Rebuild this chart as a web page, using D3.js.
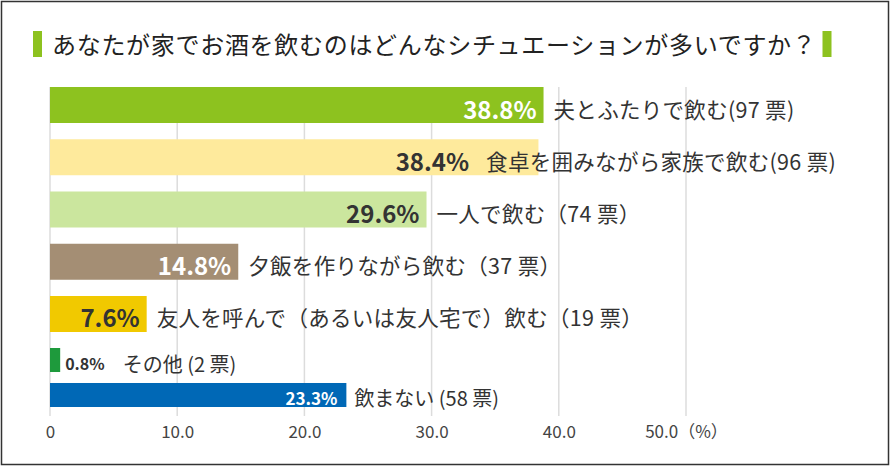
<!DOCTYPE html>
<html>
<head>
<meta charset="utf-8">
<script src="https://cdn.jsdelivr.net/npm/d3@7"></script>
<style>
  body { margin: 0; background: #fff; }
  svg { display: block; }
</style>
</head>
<body>
<script>

// Chart data
const title = "あなたが家でお酒を飲むのはどんなシチュエーションが多いですか？";
const labels = [
    "夫とふたりで飲む(97 票)",
    "食卓を囲みながら家族で飲む(96 票)",
    "一人で飲む（74 票）",
    "夕飯を作りながら飲む（37 票）",
    "友人を呼んで（あるいは友人宅で）飲む（19 票）",
    "その他 (2 票)",
    "飲まない (58 票)"
];
const values = [38.8, 38.4, 29.6, 14.8, 7.6, 0.8, 23.3];
const ticks = [0, 10, 20, 30, 40, 50];

// Styles
const barColors = ["#8dc21f", "#feea9c", "#cbe69e", "#a48e74", "#f1c900", "#1e9a3c", "#0068b6"];
const valueColors = ["#fff", "#333", "#333", "#fff", "#333", "#333", "#fff"];

const width = 890;
const height = 466;
const marginLeft = 50;
const marginRight = 204;
const plotTop = 87;
const plotBottom = 416;
const labelLimit = 836;
const font = "'Noto Sans CJK JP', 'Noto Sans', sans-serif";

// x scale
const x = d3.scaleLinear([0, 50], [marginLeft, width - marginRight]);

// y scales: five main rows, then two thinner rows below
const yMain = d3.scaleBand(d3.range(5), [plotTop, 332]).paddingInner(0.311);
const ySub = d3.scaleBand(d3.range(5, 7), [348, 407]).paddingInner(0.314);
const yPos = i => i < 5 ? yMain(i) : ySub(i);
const yBw = i => i < 5 ? yMain.bandwidth() : ySub.bandwidth();

const rows = values.map((v, i) => ({ i: i, value: v, label: labels[i] }));

const svg = d3.create("svg")
    .attr("width", width)
    .attr("height", height)
    .attr("viewBox", [0, 0, width, height])
    .style("font-family", font);

document.body.appendChild(svg.node());

// outer frame
svg.append("rect")
    .attr("x", 1.5)
    .attr("y", 1.5)
    .attr("width", width - 3)
    .attr("height", height - 3)
    .attr("fill", "#fff")
    .attr("stroke", "#333")
    .attr("stroke-width", 1.5);

// title with green accents
const titleText = svg.append("text")
    .attr("x", 52)
    .attr("y", 54)
    .attr("font-size", 24)
    .attr("letter-spacing", 0.7)
    .attr("fill", "#222")
    .text(title);

const titleEnd = 52 + titleText.node().getComputedTextLength();

svg.append("rect")
    .attr("x", 33).attr("y", 31)
    .attr("width", 9).attr("height", 26)
    .attr("fill", "#8dc21f");

svg.append("rect")
    .attr("x", Math.min(titleEnd + 6, 823)).attr("y", 31)
    .attr("width", 9).attr("height", 26)
    .attr("fill", "#8dc21f");

// grid lines
svg.append("g")
    .selectAll("line")
    .data(ticks)
    .join("line")
    .attr("x1", d => x(d))
    .attr("x2", d => x(d))
    .attr("y1", plotTop)
    .attr("y2", plotBottom)
    .attr("stroke", "#dcdcdc")
    .attr("stroke-width", 1.5);

// x axis labels
svg.append("g")
    .attr("transform", `translate(0,${plotBottom})`)
    .call(d3.axisBottom(x)
        .tickValues(ticks)
        .tickSize(0)
        .tickFormat(d => d === 0 ? "0" : d === 50 ? d.toFixed(1) + "（%）" : d.toFixed(1)))
    .call(g => g.select(".domain").remove())
    .call(g => g.selectAll("text")
        .attr("y", 22)
        .attr("dy", 0)
        .attr("fill", "#444")
        .attr("font-size", 17)
        .attr("font-family", font));

// bars
svg.append("g")
    .selectAll("rect")
    .data(rows)
    .join("rect")
    .attr("x", x(0))
    .attr("y", d => yPos(d.i))
    .attr("width", d => x(d.value) - x(0))
    .attr("height", d => yBw(d.i))
    .attr("fill", d => barColors[d.i]);

// value and category labels
rows.forEach(d => {
    const cy = yPos(d.i) + yBw(d.i) / 2 + 3;
    const end = x(d.value);
    const g = svg.append("g");

    const valSize = d.i < 5 ? 24 : (d.i === 5 ? 16 : 17);
    const valText = g.append("text")
        .attr("y", cy)
        .attr("dominant-baseline", "central")
        .attr("font-size", valSize)
        .attr("font-weight", "bold")
        .attr("fill", valueColors[d.i])
        .text(d.value.toFixed(1) + "%");

    const catText = g.append("text")
        .attr("y", cy)
        .attr("dominant-baseline", "central")
        .attr("font-size", d.i < 5 ? 21.5 : 20)
        .attr("letter-spacing", d.i < 5 ? 0.3 : 0)
        .attr("fill", "#333")
        .text(d.label);

    const w = valText.node().getComputedTextLength();
    const cw = catText.node().getComputedTextLength();

    let valStart, catStart;
    if (w + 14 < end - x(0)) {
        valStart = end - (d.i < 5 ? 7 : 9) - w;
        catStart = end + (d.i < 5 ? 10 : 8);
    } else {
        valStart = end + 5;
        catStart = valStart + w + 18;
    }

    // keep the whole label inside the frame
    const over = Math.max(0, catStart + cw - labelLimit);
    valText.attr("x", valStart - over);
    catText.attr("x", catStart - over);
});

</script>
</body>
</html>
